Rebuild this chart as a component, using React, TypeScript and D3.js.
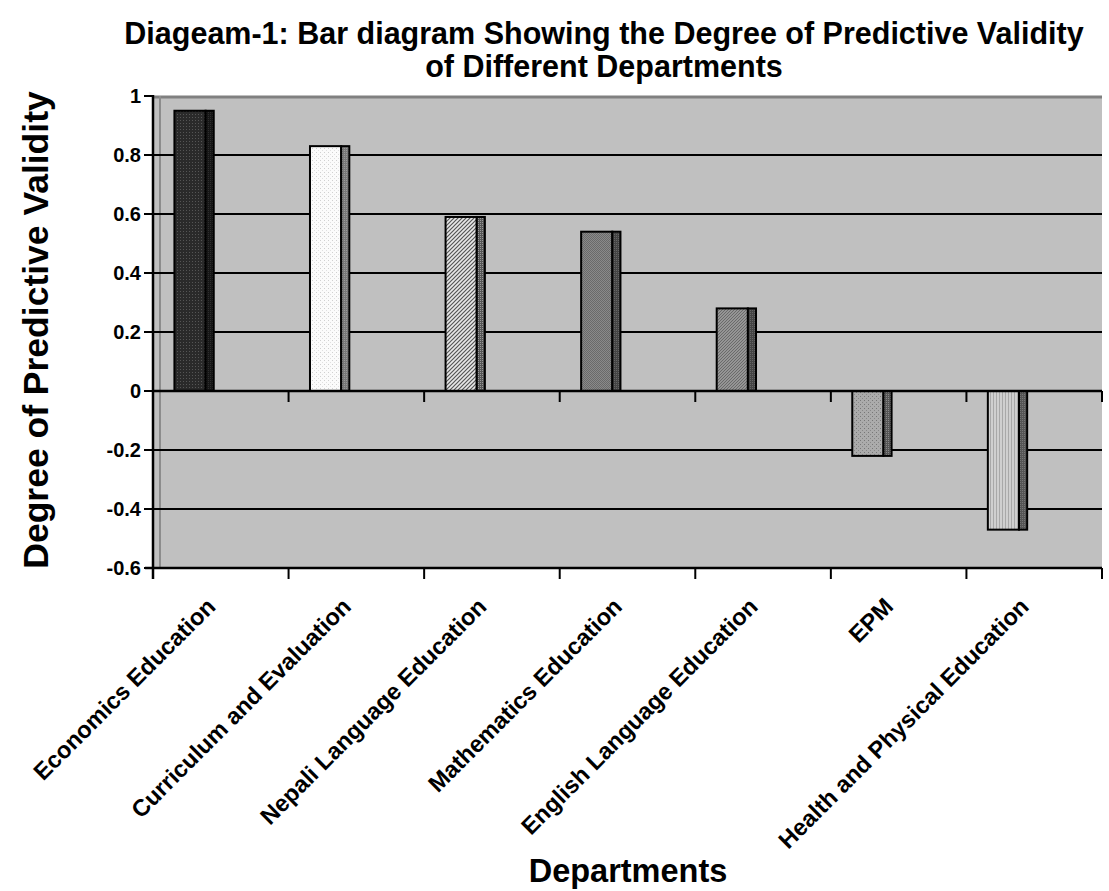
import React from "react";
import * as d3 from "d3";

const categories = [
  "Economics Education",
  "Curriculum and Evaluation",
  "Nepali Language Education",
  "Mathematics Education",
  "English Language Education",
  "EPM",
  "Health and Physical Education",
];
const values = [0.95, 0.83, 0.59, 0.54, 0.28, -0.22, -0.47];
const yTicks = [1, 0.8, 0.6, 0.4, 0.2, 0, -0.2, -0.4, -0.6];
const titleLines = [
  "Diageam-1: Bar diagram Showing the Degree of Predictive Validity",
  "of Different Departments",
];

const W = 1109;
const H = 891;
const left = 153;
const right = 1102;
const top = 96;
const bottom = 568;
const FONT = "'Liberation Sans', Arial, sans-serif";

function Patterns() {
  return (
    <defs>
      <pattern id="p0" width="3" height="3" patternUnits="userSpaceOnUse">
        <rect width="3" height="3" fill="#2a2a2a" />
        <rect width="1" height="1" fill="#555" />
      </pattern>
      <pattern id="s0" width="2" height="2" patternUnits="userSpaceOnUse">
        <rect width="2" height="2" fill="#161616" />
        <rect width="1" height="1" fill="#2e2e2e" />
      </pattern>
      <pattern id="p1" width="4" height="4" patternUnits="userSpaceOnUse">
        <rect width="4" height="4" fill="#fbfbfb" />
        <rect width="1" height="1" fill="#d0d0d0" />
        <rect x="2" y="2" width="1" height="1" fill="#e0e0e0" />
      </pattern>
      <pattern id="s1" width="2" height="2" patternUnits="userSpaceOnUse">
        <rect width="2" height="2" fill="#777" />
        <rect width="1" height="1" fill="#999" />
      </pattern>
      <pattern id="p2" width="4" height="4" patternUnits="userSpaceOnUse">
        <rect width="4" height="4" fill="#e8e8e8" />
        <path d="M0,4 L4,0 M-1,1 L1,-1 M3,5 L5,3" stroke="#555" strokeWidth="1.2" />
      </pattern>
      <pattern id="s2" width="2" height="2" patternUnits="userSpaceOnUse">
        <rect width="2" height="2" fill="#555" />
        <rect width="1" height="1" fill="#999" />
      </pattern>
      <pattern id="p3" width="2" height="2" patternUnits="userSpaceOnUse">
        <rect width="2" height="2" fill="#8a8a8a" />
        <rect width="1" height="1" fill="#6a6a6a" />
        <rect x="1" y="1" width="1" height="1" fill="#6a6a6a" />
      </pattern>
      <pattern id="s3" width="2" height="2" patternUnits="userSpaceOnUse">
        <rect width="2" height="2" fill="#444" />
        <rect width="1" height="1" fill="#666" />
      </pattern>
      <pattern id="p4" width="3" height="3" patternUnits="userSpaceOnUse">
        <rect width="3" height="3" fill="#959595" />
        <path d="M0,3 L3,0" stroke="#6a6a6a" strokeWidth="1" />
      </pattern>
      <pattern id="s4" width="2" height="2" patternUnits="userSpaceOnUse">
        <rect width="2" height="2" fill="#444" />
        <rect width="1" height="1" fill="#666" />
      </pattern>
      <pattern id="p5" width="4" height="4" patternUnits="userSpaceOnUse">
        <rect width="4" height="4" fill="#ababab" />
        <rect width="1" height="1" fill="#777" />
        <rect x="2" y="2" width="1" height="1" fill="#888" />
      </pattern>
      <pattern id="s5" width="2" height="2" patternUnits="userSpaceOnUse">
        <rect width="2" height="2" fill="#555" />
        <rect width="1" height="1" fill="#888" />
      </pattern>
      <pattern id="p6" width="3" height="2" patternUnits="userSpaceOnUse">
        <rect width="3" height="2" fill="#cfcfcf" />
        <rect width="1" height="2" fill="#a8a8a8" />
      </pattern>
      <pattern id="s6" width="2" height="2" patternUnits="userSpaceOnUse">
        <rect width="2" height="2" fill="#555" />
        <rect width="1" height="1" fill="#777" />
      </pattern>
    </defs>
  );
}

export default function App() {
  const y = d3.scaleLinear().domain([-0.6, 1]).range([bottom, top]);
  const x = d3.scaleBand<string>().domain(categories).range([left, right]);
  const bw = x.bandwidth();
  const frontW = bw * 0.23;
  const sideW = bw * 0.06;
  const offset = bw * 0.158;
  const y0 = y(0);

  return (
    <svg width={W} height={H} style={{ display: "block", position: "absolute", left: 0, top: 0 }}>
      <Patterns />
      <rect x={0} y={0} width={W} height={H} fill="#fff" />
      {/* plot area */}
      <rect x={left} y={top} width={right - left} height={bottom - top} fill="#c0c0c0" />
      <line x1={left} x2={right} y1={top + 1} y2={top + 1} stroke="#808080" strokeWidth={3} />
      <line x1={left + 7} x2={left + 7} y1={top} y2={bottom} stroke="#8c8c8c" strokeWidth={2} />
      {/* gridlines */}
      {yTicks.filter((t) => t !== 1 && t !== -0.6).map((t) => (
        <line key={t} x1={left} x2={right} y1={y(t)} y2={y(t)} stroke="#000" strokeWidth={2} />
      ))}
      {/* bars */}
      {categories.map((c, i) => {
        const v = values[i];
        const bx = (x(c) as number) + offset;
        const yt = Math.min(y(v), y0);
        const h = Math.abs(y(v) - y0);
        return (
          <g key={c}>
            <rect x={bx} y={yt} width={frontW} height={h} fill={`url(#p${i})`} stroke="#000" strokeWidth={2} />
            <rect x={bx + frontW} y={yt} width={sideW} height={h} fill={`url(#s${i})`} stroke="#000" strokeWidth={2} />
          </g>
        );
      })}
      {/* zero axis with ticks */}
      <line x1={left} x2={right} y1={y0} y2={y0} stroke="#000" strokeWidth={2.5} />
      {categories.map((c) => (
        <line key={c} x1={x(c)} x2={x(c)} y1={y0} y2={y0 + 11} stroke="#000" strokeWidth={2} />
      ))}
      <line x1={right} x2={right} y1={y0} y2={y0 + 11} stroke="#000" strokeWidth={2} />
      {/* bottom edge with ticks */}
      <line x1={left - 8} x2={right} y1={bottom} y2={bottom} stroke="#000" strokeWidth={2.5} />
      {categories.map((c) => (
        <line key={c} x1={x(c)} x2={x(c)} y1={bottom} y2={bottom + 11} stroke="#000" strokeWidth={2} />
      ))}
      <line x1={right} x2={right} y1={bottom} y2={bottom + 11} stroke="#000" strokeWidth={2} />
      {/* y axis */}
      <line x1={left} x2={left} y1={top - 1} y2={bottom + 11} stroke="#000" strokeWidth={2.5} />
      {yTicks.map((t) => (
        <g key={t}>
          <line x1={left - 9} x2={left} y1={y(t)} y2={y(t)} stroke="#000" strokeWidth={2} />
          <text
            x={left - 12}
            y={y(t)}
            dy="0.36em"
            textAnchor="end"
            fontFamily={FONT}
            fontWeight="bold"
            fontSize={20}
          >
            {t === 0 ? "0" : String(t)}
          </text>
        </g>
      ))}
      {/* x labels */}
      {categories.map((c) => {
        const cx = (x(c) as number) + bw / 2;
        return (
          <text
            key={c}
            transform={`translate(${cx - 4},${bottom + 40}) rotate(-45)`}
            textAnchor="end"
            fontFamily={FONT}
            fontWeight="bold"
            fontSize={23.5}
          >
            {c}
          </text>
        );
      })}
      {/* title */}
      {titleLines.map((l, i) => (
        <text
          key={i}
          x={604}
          y={44 + i * 33}
          textAnchor="middle"
          fontFamily={FONT}
          fontWeight="bold"
          fontSize={30.5}
        >
          {l}
        </text>
      ))}
      {/* axis titles */}
      <text
        transform={`translate(48,${(top + bottom) / 2 - 2}) rotate(-90)`}
        textAnchor="middle"
        fontFamily={FONT}
        fontWeight="bold"
        fontSize={35.5}
      >
        Degree of Predictive Validity
      </text>
      <text x={628} y={882} textAnchor="middle" fontFamily={FONT} fontWeight="bold" fontSize={32.5}>
        Departments
      </text>
    </svg>
  );
}
